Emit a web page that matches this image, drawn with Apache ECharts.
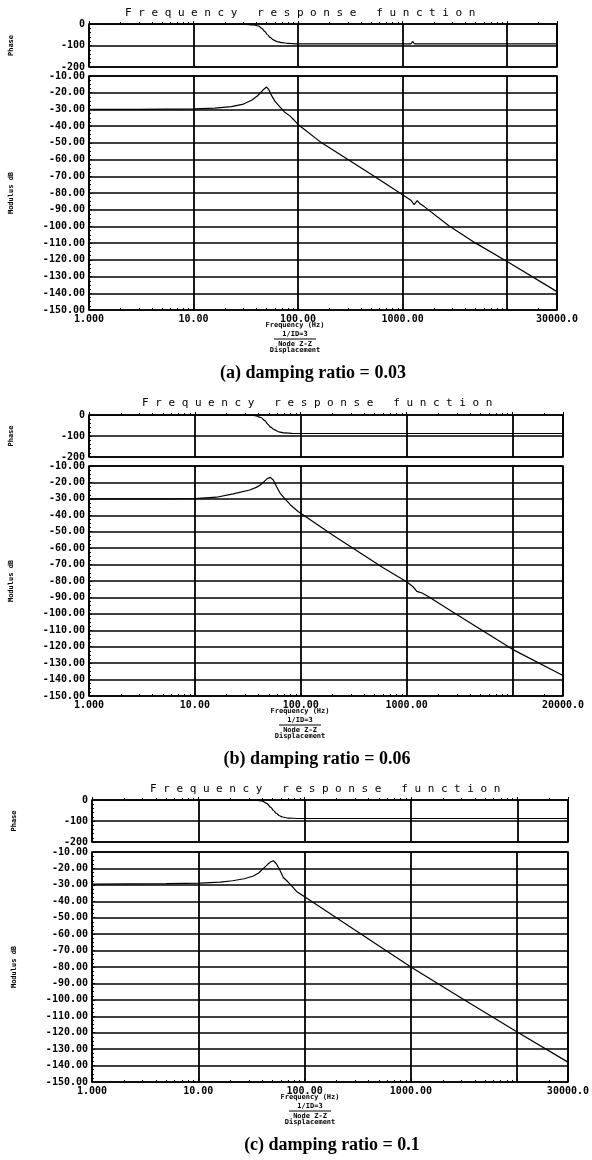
<!DOCTYPE html>
<html>
<head>
<meta charset="utf-8">
<script src="https://cdn.jsdelivr.net/npm/echarts@6/dist/echarts.min.js"></script>
<style>
  html, body { margin: 0; padding: 0; background: #fff; }
  #wrap { position: relative; width: 592px; height: 1160px; }
  #chart { position: absolute; left: 0; top: 0; width: 592px; height: 1160px; }
  .ttl {
    position: absolute;
    font-family: 'DejaVu Sans Mono', monospace;
    font-size: 11px;
    line-height: 12px;
    letter-spacing: 6.6px;
    color: #000;
    white-space: nowrap;
  }
</style>
</head>
<body>
<div id="wrap">
  <div id="chart"></div>
  <div class="ttl" style="left:125px;top:7px">Frequency response function</div>
  <div class="ttl" style="left:142px;top:397px">Frequency response function</div>
  <div class="ttl" style="left:150px;top:783px">Frequency response function</div>
</div>
<script>
// 数据: 三个阻尼比下的频响函数 (幅值 dB / 相位)
const captions = ['(a) damping ratio = 0.03', '(b) damping ratio = 0.06', '(c) damping ratio = 0.1'];
const xTickText = { 1: '1.000', 10: '10.00', 100: '100.00', 1000: '1000.00' };
const xMaxText = ['30000.0', '20000.0', '30000.0'];
const xMax = 30000;
const subLabels = ['Frequency (Hz)', '1/ID=3', 'Node Z-Z', 'Displacement'];

// (a) 0.03
const freqA = [1, 3, 10, 16, 23, 30, 36, 41, 45, 47, 49, 50, 51, 52.5, 55, 60, 66, 74, 84, 92, 100, 168, 300, 521, 1000, 1200, 1290, 1380, 1470, 1600, 2770, 5000, 10000, 30000];
const modA = [-30.0, -30.0, -29.7, -29.2, -28.3, -26.8, -24.5, -21.8, -19.2, -17.9, -16.9, -16.6, -16.9, -18.2, -21.0, -25.0, -28.0, -31.5, -34.0, -36.5, -39.0, -50.0, -60.0, -69.5, -81.0, -84.3, -87.0, -84.6, -86.5, -88.0, -99.6, -110.0, -121.0, -139.0];
const phFreqA = [1, 30, 38, 42, 45, 48, 51, 54, 58, 63, 70, 80, 100, 1200, 1250, 1300, 30000];
const phA = [0, -1, -4, -10, -20, -34, -50, -62, -74, -82, -87, -90, -92, -92, -82, -92, -92];

// (b) 0.06
const freqB = [1, 5, 10, 16, 23, 33, 38, 41.5, 45, 48, 50, 51.5, 53, 55, 59, 64, 72, 80, 95, 100, 200, 600, 1000, 1150, 1250, 1400, 1600, 3000, 10000, 30000];
const modB = [-30.0, -30.0, -29.8, -29.0, -27.0, -24.6, -23.0, -21.6, -19.5, -17.8, -17.1, -16.9, -17.4, -18.5, -22.5, -26.6, -30.5, -33.7, -37.8, -38.8, -52.0, -72.0, -80.5, -83.5, -86.3, -87.3, -89.5, -100.5, -121.6, -137.5];
const phFreqB = [1, 33, 38, 42, 46, 49, 52, 56, 62, 70, 85, 100, 30000];
const phB = [0, -1, -4, -12, -28, -45, -58, -70, -80, -85, -88, -88, -88];

// (c) 0.1
const freqC = [1, 5, 10.4, 16, 21, 27, 33, 37, 41, 45, 48, 49.5, 50.8, 52, 54, 58, 63, 68, 76, 84, 100, 267, 1000, 3000, 10000, 30000];
const modC = [-29.5, -29.3, -29.0, -28.3, -27.5, -26.3, -24.6, -22.8, -20.0, -17.5, -16.0, -15.5, -15.3, -15.8, -17.0, -20.5, -25.5, -27.5, -30.8, -34.0, -37.3, -55.5, -80.0, -99.0, -119.6, -137.9];
const phFreqC = [1, 35, 40, 44, 48, 51, 54, 58, 62, 70, 90, 30000];
const phC = [0, -1, -5, -16, -35, -50, -63, -75, -81, -86, -88, -88];

const panelData = [
    { freq: freqA, mod: modA, phFreq: phFreqA, ph: phA },
    { freq: freqB, mod: modB, phFreq: phFreqB, ph: phB },
    { freq: freqC, mod: modC, phFreq: phFreqC, ph: phC }
];

// 版面位置
const layout = [
    { left: 82, width: 475, phTop: 24, phH: 43, modTop: 76, modH: 234, subX: 295, capX: 313 },
    { left: 89, width: 474, phTop: 415, phH: 42, modTop: 466, modH: 230, subX: 300, capX: 317 },
    { left: 92, width: 476, phTop: 800, phH: 42, modTop: 852, modH: 230, subX: 310, capX: 332 }
];

const MONO = '"DejaVu Sans Mono", monospace';
const SERIF = '"Liberation Serif", "DejaVu Serif", serif';

const grid = [];
const xAxis = [];
const yAxis = [];
const series = [];
const graphic = [];

const pairs = (xs, ys) => xs.map((x, i) => [x, ys[i]]);

layout.forEach((L, p) => {
    [[L.phTop, L.phH], [L.modTop, L.modH]].forEach(([top, h], k) => {
        const g = p * 2 + k;
        const isMod = k === 1;
        grid.push({
            left: L.left, top: top, width: L.width, height: h,
            show: true, borderColor: '#000', borderWidth: 1.6, backgroundColor: 'transparent'
        });
        xAxis.push({
            type: 'log', logBase: 10, min: 1, max: xMax, gridIndex: g,
            axisLine: { show: false },
            axisTick: { show: true, inside: true, length: 3, lineStyle: { color: '#000' } },
            minorTick: { show: true, splitNumber: 9, length: 2, lineStyle: { color: '#000', width: 1 } },
            splitLine: { show: true, lineStyle: { color: '#000', width: 1.8 } },
            axisLabel: {
                show: isMod,
                margin: 4,
                color: '#000',
                fontFamily: MONO,
                fontSize: 10,
                fontWeight: 'bold',
                showMinLabel: true,
                showMaxLabel: true,
                formatter: function (v) {
                    const r = Math.round(v);
                    if (r === xMax) return xMaxText[p];
                    return xTickText[r] || '';
                }
            }
        });
        yAxis.push({
            type: 'value', gridIndex: g,
            min: isMod ? -150 : -200,
            max: isMod ? -10 : 0,
            interval: isMod ? 10 : 100,
            axisLine: { show: false },
            axisTick: { show: true, inside: true, length: 3, lineStyle: { color: '#000' } },
            minorTick: { show: true, splitNumber: isMod ? 4 : 5, length: 2, lineStyle: { color: '#000' } },
            splitLine: { show: true, lineStyle: { color: '#000', width: 1.6 } },
            axisLabel: {
                margin: 4,
                color: '#000',
                fontFamily: MONO,
                fontSize: 10,
                fontWeight: 'bold',
                formatter: isMod ? (v) => v.toFixed(2) : (v) => String(v)
            },
            name: isMod ? 'Modulus dB' : 'Phase',
            nameLocation: 'middle',
            nameGap: 74,
            nameTextStyle: { color: '#000', fontFamily: MONO, fontSize: 7, fontWeight: 'bold' }
        });
        const d = panelData[p];
        series.push({
            type: 'line',
            xAxisIndex: g, yAxisIndex: g,
            data: isMod ? pairs(d.freq, d.mod) : pairs(d.phFreq, d.ph),
            symbol: 'none',
            smooth: isMod ? false : 0.3,
            smoothMonotone: 'x',
            clip: true,
            lineStyle: { color: '#000', width: 1.2 }
        });
    });

    // 坐标轴下方的说明文字
    const yb = L.modTop + L.modH;
    const subY = [yb + 15, yb + 24, yb + 34, yb + 40];
    subLabels.forEach((t, i) => {
        graphic.push({
            type: 'text',
            style: {
                text: t, x: L.subX, y: subY[i],
                fill: '#000',
                font: 'bold 7px ' + MONO,
                textAlign: 'center', align: 'center',
                textVerticalAlign: 'middle', verticalAlign: 'middle'
            }
        });
    });
    graphic.push({
        type: 'line',
        shape: { x1: L.subX - 21, y1: yb + 29, x2: L.subX + 21, y2: yb + 29 },
        style: { stroke: '#000', lineWidth: 1 }
    });
    graphic.push({
        type: 'text',
        style: {
            text: captions[p], x: L.capX, y: yb + 63,
            fill: '#000',
            font: 'bold 18px ' + SERIF,
            textAlign: 'center', align: 'center',
            textVerticalAlign: 'middle', verticalAlign: 'middle'
        }
    });
});

const chart = echarts.init(document.getElementById('chart'));
chart.setOption({
    animation: false,
    backgroundColor: '#fff',
    grid: grid,
    xAxis: xAxis,
    yAxis: yAxis,
    series: series,
    graphic: graphic
});
</script>
</body>
</html>
